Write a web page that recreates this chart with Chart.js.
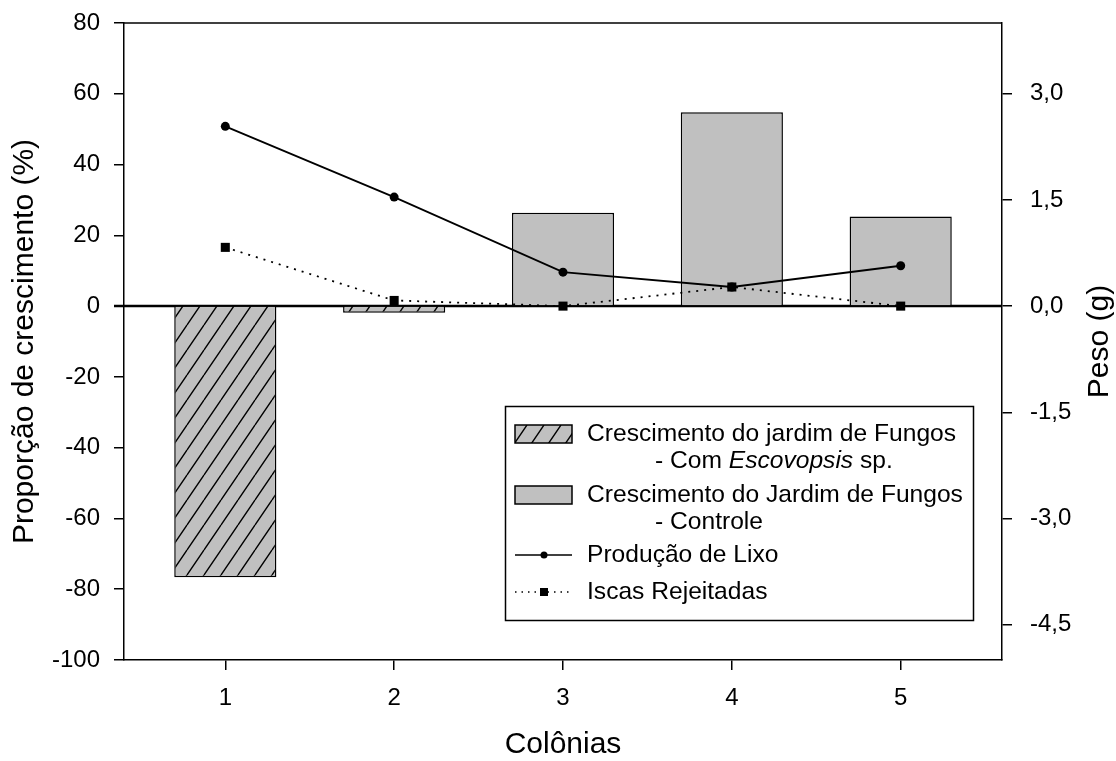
<!DOCTYPE html>
<html>
<head>
<meta charset="utf-8">
<script src="https://cdn.jsdelivr.net/npm/chart.js@4.4.0/dist/chart.umd.min.js"></script>
<style>
  body { margin: 0; background: #fff; }
  canvas { display: block; }
</style>
</head>
<body>
<canvas id="grafico" width="1116" height="761"></canvas>
<script>
// === DADOS ===
const coloniasEscovopsis = [1, 2];
const crescEscovopsis = [-76.6, -1.9];
const coloniasControle = [3, 4, 5];
const crescControle = [26.4, 54.8, 25.3];
const colonias = [1, 2, 3, 4, 5];
const producaoLixo = [2.54, 1.54, 0.48, 0.27, 0.57];
const iscasRejeitadas = [0.83, 0.08, 0.0, 0.27, 0.0];
const pesoTicks = [-4.5, -3.0, -1.5, 0.0, 1.5, 3.0];

const FONT = "'Liberation Sans', Arial, sans-serif";
const CINZA = "#c0c0c0";

// padrao hachurado "/" para as barras com Escovopsis
function hatchPattern(ctx) {
  const c = document.createElement("canvas");
  c.width = 17;
  c.height = 25;
  const g = c.getContext("2d");
  g.fillStyle = CINZA;
  g.fillRect(0, 0, 17, 25);
  g.strokeStyle = "#000";
  g.lineWidth = 1.4;
  g.beginPath();
  for (let k = -1; k <= 1; k++) {
    g.moveTo(k * 17, 25);
    g.lineTo(k * 17 + 17, 0);
  }
  g.stroke();
  return ctx.createPattern(c, "repeat");
}

function pares(xs, ys) {
  return xs.map((x, i) => ({ x: x, y: ys[i] }));
}

// tamanho fixo das escalas, sem folga extra para os rotulos
function fixa(prop, valor) {
  return (s) => {
    s[prop] = valor;
    s.paddingTop = 0;
    s.paddingBottom = 0;
    s.paddingLeft = 0;
    s.paddingRight = 0;
  };
}

const canvas = document.getElementById("grafico");
const ctx = canvas.getContext("2d");
const hatch = hatchPattern(ctx);

// linha do zero, borda superior, titulos e legenda
const extras = {
  id: "extras",
  beforeDatasetsDraw(chart) {
    const { ctx, chartArea, scales } = chart;
    const y0 = scales.y.getPixelForValue(0);
    ctx.save();
    ctx.strokeStyle = "#000";
    ctx.lineWidth = 2.5;
    ctx.beginPath();
    ctx.moveTo(chartArea.left - 10, y0);
    ctx.lineTo(chartArea.right, y0);
    ctx.stroke();
    ctx.lineWidth = 1.5;
    ctx.beginPath();
    ctx.moveTo(chartArea.left, chartArea.top);
    ctx.lineTo(chartArea.right, chartArea.top);
    ctx.stroke();
    ctx.restore();
  },
  afterDraw(chart) {
    const { ctx, chartArea } = chart;
    const midY = (chartArea.top + chartArea.bottom) / 2;
    ctx.save();
    ctx.fillStyle = "#000";
    ctx.textBaseline = "middle";
    ctx.textAlign = "center";
    ctx.font = "30px " + FONT;
    ctx.fillText("Colônias", (chartArea.left + chartArea.right) / 2, 745);
    ctx.save();
    ctx.translate(25, midY);
    ctx.rotate(-Math.PI / 2);
    ctx.fillText("Proporção de crescimento (%)", 0, 0);
    ctx.restore();
    ctx.save();
    ctx.translate(1100, midY);
    ctx.rotate(-Math.PI / 2);
    ctx.fillText("Peso (g)", 0, 0);
    ctx.restore();

    // legenda
    const bx = 505.5, by = 406.5, bw = 468, bh = 214;
    ctx.fillStyle = "#fff";
    ctx.fillRect(bx, by, bw, bh);
    ctx.strokeStyle = "#000";
    ctx.lineWidth = 1.5;
    ctx.strokeRect(bx, by, bw, bh);

    const sx = 515, sw = 57, tx = 587, tx2 = 655;
    ctx.fillStyle = hatch;
    ctx.fillRect(sx, 425, sw, 18);
    ctx.strokeRect(sx, 425, sw, 18);
    ctx.fillStyle = CINZA;
    ctx.fillRect(sx, 486, sw, 18);
    ctx.strokeRect(sx, 486, sw, 18);

    ctx.beginPath();
    ctx.moveTo(sx, 555);
    ctx.lineTo(sx + sw, 555);
    ctx.stroke();
    ctx.fillStyle = "#000";
    ctx.beginPath();
    ctx.arc(544, 555, 3.5, 0, Math.PI * 2);
    ctx.fill();

    ctx.setLineDash([1.5, 5]);
    ctx.beginPath();
    ctx.moveTo(sx, 592);
    ctx.lineTo(sx + sw, 592);
    ctx.stroke();
    ctx.setLineDash([]);
    ctx.fillRect(540, 588, 8, 8);

    const lf = "24.6px " + FONT;
    ctx.textAlign = "left";
    ctx.font = lf;
    ctx.fillText("Crescimento do jardim de Fungos", tx, 434);
    let x = tx2;
    ctx.fillText("- Com ", x, 461);
    x += ctx.measureText("- Com ").width;
    ctx.font = "italic " + lf;
    ctx.fillText("Escovopsis", x, 461);
    x += ctx.measureText("Escovopsis").width;
    ctx.font = lf;
    ctx.fillText(" sp.", x, 461);
    ctx.fillText("Crescimento do Jardim de Fungos", tx, 495);
    ctx.fillText("- Controle", tx2, 522);
    ctx.fillText("Produção de Lixo", tx, 555);
    ctx.fillText("Iscas Rejeitadas", tx, 592);
    ctx.restore();
  }
};

const tickFont = { family: FONT, size: 24 };
const axisGrid = { display: true, drawOnChartArea: false, drawTicks: true, tickLength: 10, color: "#000", lineWidth: 1.5 };

new Chart(ctx, {
  type: "bar",
  data: {
    datasets: [
      {
        type: "line",
        label: "Produção de Lixo",
        data: pares(colonias, producaoLixo),
        yAxisID: "y1",
        borderColor: "#000",
        borderWidth: 1.8,
        pointStyle: "circle",
        pointRadius: 4.5,
        pointBackgroundColor: "#000",
        pointBorderWidth: 0,
        order: 0
      },
      {
        type: "line",
        label: "Iscas Rejeitadas",
        data: pares(colonias, iscasRejeitadas),
        yAxisID: "y1",
        borderColor: "#000",
        borderWidth: 1.8,
        borderDash: [2, 6],
        pointStyle: "rect",
        pointRadius: 6.4,
        pointBackgroundColor: "#000",
        pointBorderWidth: 0,
        order: 0
      },
      {
        label: "Crescimento do jardim de Fungos - Com Escovopsis sp.",
        data: pares(coloniasEscovopsis, crescEscovopsis),
        yAxisID: "y",
        backgroundColor: hatch,
        borderColor: "#000",
        borderWidth: 1.5,
        grouped: false,
        order: 1
      },
      {
        label: "Crescimento do Jardim de Fungos - Controle",
        data: pares(coloniasControle, crescControle),
        yAxisID: "y",
        backgroundColor: CINZA,
        borderColor: "#000",
        borderWidth: 1.5,
        grouped: false,
        order: 1
      }
    ]
  },
  options: {
    responsive: false,
    animation: false,
    layout: { padding: { top: 23, left: 0, right: 0, bottom: 0 } },
    datasets: { bar: { barPercentage: 0.605, categoryPercentage: 1 } },
    plugins: { legend: { display: false }, tooltip: { enabled: false } },
    scales: {
      x: {
        type: "linear",
        min: 0.4,
        max: 5.6,
        offset: false,
        afterBuildTicks: (s) => { s.ticks = colonias.map((v) => ({ value: v })); },
        afterFit: fixa("height", 101),
        grid: Object.assign({ offset: false }, axisGrid),
        border: { display: true, color: "#000", width: 1.5 },
        ticks: { color: "#000", font: tickFont, padding: 14, maxRotation: 0 }
      },
      y: {
        position: "left",
        min: -100,
        max: 80,
        afterBuildTicks: (s) => {
          const t = [];
          for (let v = -100; v <= 80; v += 20) t.push({ value: v });
          s.ticks = t;
        },
        afterFit: fixa("width", 124),
        grid: axisGrid,
        border: { display: true, color: "#000", width: 1.5 },
        ticks: { color: "#000", font: tickFont, padding: 14 }
      },
      y1: {
        position: "right",
        min: -5,
        max: 4,
        afterBuildTicks: (s) => { s.ticks = pesoTicks.map((v) => ({ value: v })); },
        afterFit: fixa("width", 114),
        grid: axisGrid,
        border: { display: true, color: "#000", width: 1.5 },
        ticks: {
          color: "#000",
          font: tickFont,
          padding: 18,
          callback: (v) => v.toFixed(1).replace(".", ",")
        }
      }
    }
  },
  plugins: [extras]
});
</script>
</body>
</html>
